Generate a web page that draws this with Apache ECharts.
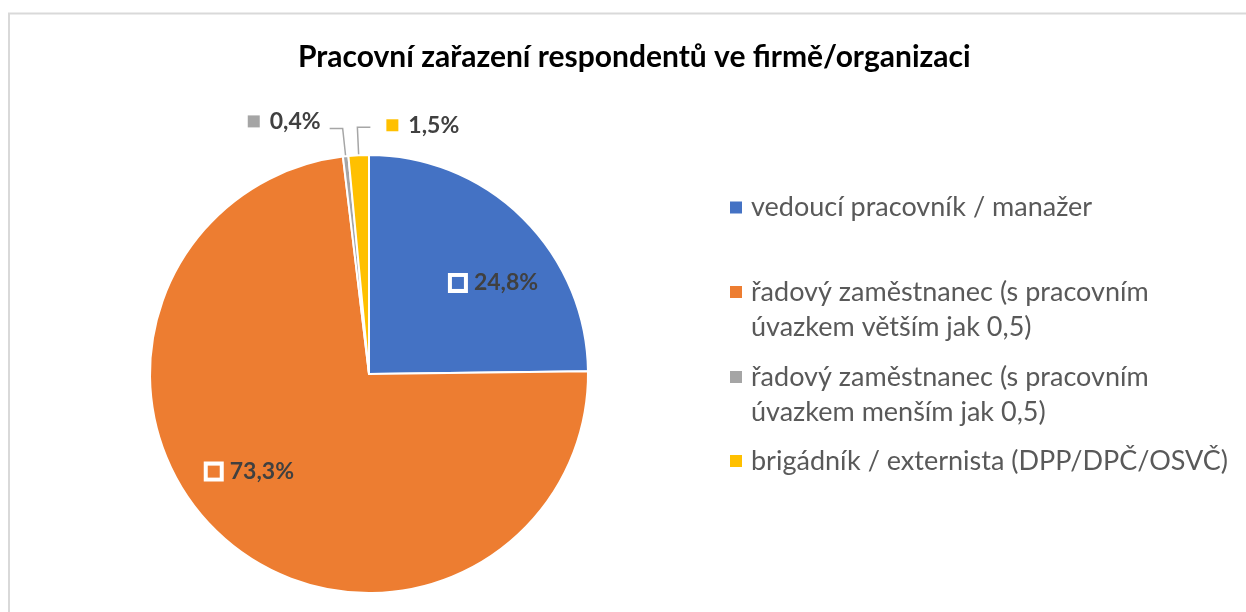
<!DOCTYPE html>
<html>
<head>
<meta charset="utf-8">
<script src="https://cdn.jsdelivr.net/npm/echarts@6/dist/echarts.min.js"></script>
<style>
  html, body { margin: 0; padding: 0; background: #fff; }
  #chart { width: 1246px; height: 612px; }
</style>
</head>
<body>
<div id="chart"></div>
<script>
// data
var categories = [
  'vedoucí pracovník / manažer',
  'řadový zaměstnanec (s pracovním úvazkem větším jak 0,5)',
  'řadový zaměstnanec (s pracovním úvazkem menším jak 0,5)',
  'brigádník / externista (DPP/DPČ/OSVČ)'
];
var shares = [24.8, 73.3, 0.4, 1.5];
var colors = ['#4472C4', '#ED7D31', '#A5A5A5', '#FFC000'];

var FONT = 'Lato';

function pct(v) {
  return v.toFixed(1).replace('.', ',') + '%';
}

// legend lines: break long names before "úvazkem"
function wrap(name) {
  var i = name.indexOf(' úvazkem');
  if (i < 0) return [name];
  return [name.slice(0, i), name.slice(i + 1)];
}

var legendRich = {
  t: { fontFamily: FONT, fontSize: 27, color: '#595959', lineHeight: 35, verticalAlign: 'middle' },
  g: { width: 9, height: 12 },
  p: { width: 21, height: 12 }
};
var labelRich = {
  v: { fontFamily: FONT, fontSize: 23, fontWeight: 'bold', color: '#404040', padding: [0, 0, 0, 10] }
};
colors.forEach(function (c, i) {
  legendRich['s' + i] = { width: 12, height: 12, backgroundColor: c, verticalAlign: 'middle' };
  labelRich['b' + i] = { width: 12, height: 12, backgroundColor: c, borderColor: '#fff', borderWidth: 4 };
});

var seriesData = categories.map(function (name, i) {
  var small = shares[i] < 5;
  return {
    name: name,
    value: shares[i],
    itemStyle: { color: colors[i] },
    label: { position: small ? 'outside' : 'inside' },
    labelLine: { show: small }
  };
});

// one legend block per item, first lines spaced evenly like the original
var legendTops = [194, 278.5, 363.5, 447.5];
var legends = categories.map(function (name, i) {
  return {
    orient: 'vertical',
    left: 725,
    top: legendTops[i],
    padding: 0,
    icon: 'none',
    itemWidth: 0,
    selectedMode: false,
    data: [name],
    formatter: function (n) {
      var lines = wrap(n);
      var s = '{s' + i + '|}{g|}{t|' + lines[0] + '}';
      if (lines[1]) s += '\n{p|}{t|' + lines[1] + '}';
      return s;
    },
    textStyle: { rich: legendRich }
  };
});

var myChart = echarts.init(document.getElementById('chart'));
myChart.setOption({
  backgroundColor: '#fff',
  animation: false,
  graphic: [{
    type: 'rect',
    shape: { x: 9, y: 13.5, width: 2000, height: 2000 },
    style: { fill: 'none', stroke: '#d9d9d9', lineWidth: 2 }
  }],
  title: {
    text: 'Pracovní zařazení respondentů ve firmě/organizaci',
    left: 293,
    top: 37,
    padding: 5,
    textStyle: { fontFamily: FONT, fontSize: 30, fontWeight: 'bold', color: '#000' }
  },
  legend: legends,
  series: [{
    type: 'pie',
    center: [369, 374],
    radius: 219,
    startAngle: 90,
    clockwise: true,
    avoidLabelOverlap: false,
    itemStyle: { borderColor: '#fff', borderWidth: 2 },
    label: {
      formatter: function (p) {
        return '{b' + p.dataIndex + '|}{v|' + pct(p.value) + '}';
      },
      rich: labelRich
    },
    labelLine: {
      length: 28,
      length2: 13,
      lineStyle: { color: '#a6a6a6', width: 1.5 }
    },
    labelLayout: function (p) {
      if (p.dataIndex === 0) return { dx: 47, dy: -11 };
      if (p.dataIndex === 1) return { dx: -44, dy: 13 };
      var pts = p.labelLinePoints;
      if (!pts) return {};
      if (p.dataIndex === 2) return { dx: -4, dy: -7, labelLinePoints: pts };
      // yellow slice: flip the elbow to the right side
      var end = [2 * pts[1][0] - pts[2][0], pts[2][1]];
      return {
        x: end[0] + 16,
        y: pts[1][1] - 2,
        align: 'left',
        verticalAlign: 'middle',
        labelLinePoints: [pts[0], pts[1], end]
      };
    },
    data: seriesData
  }]
});
window.addEventListener('resize', function () { myChart.resize(); });
</script>
</body>
</html>
